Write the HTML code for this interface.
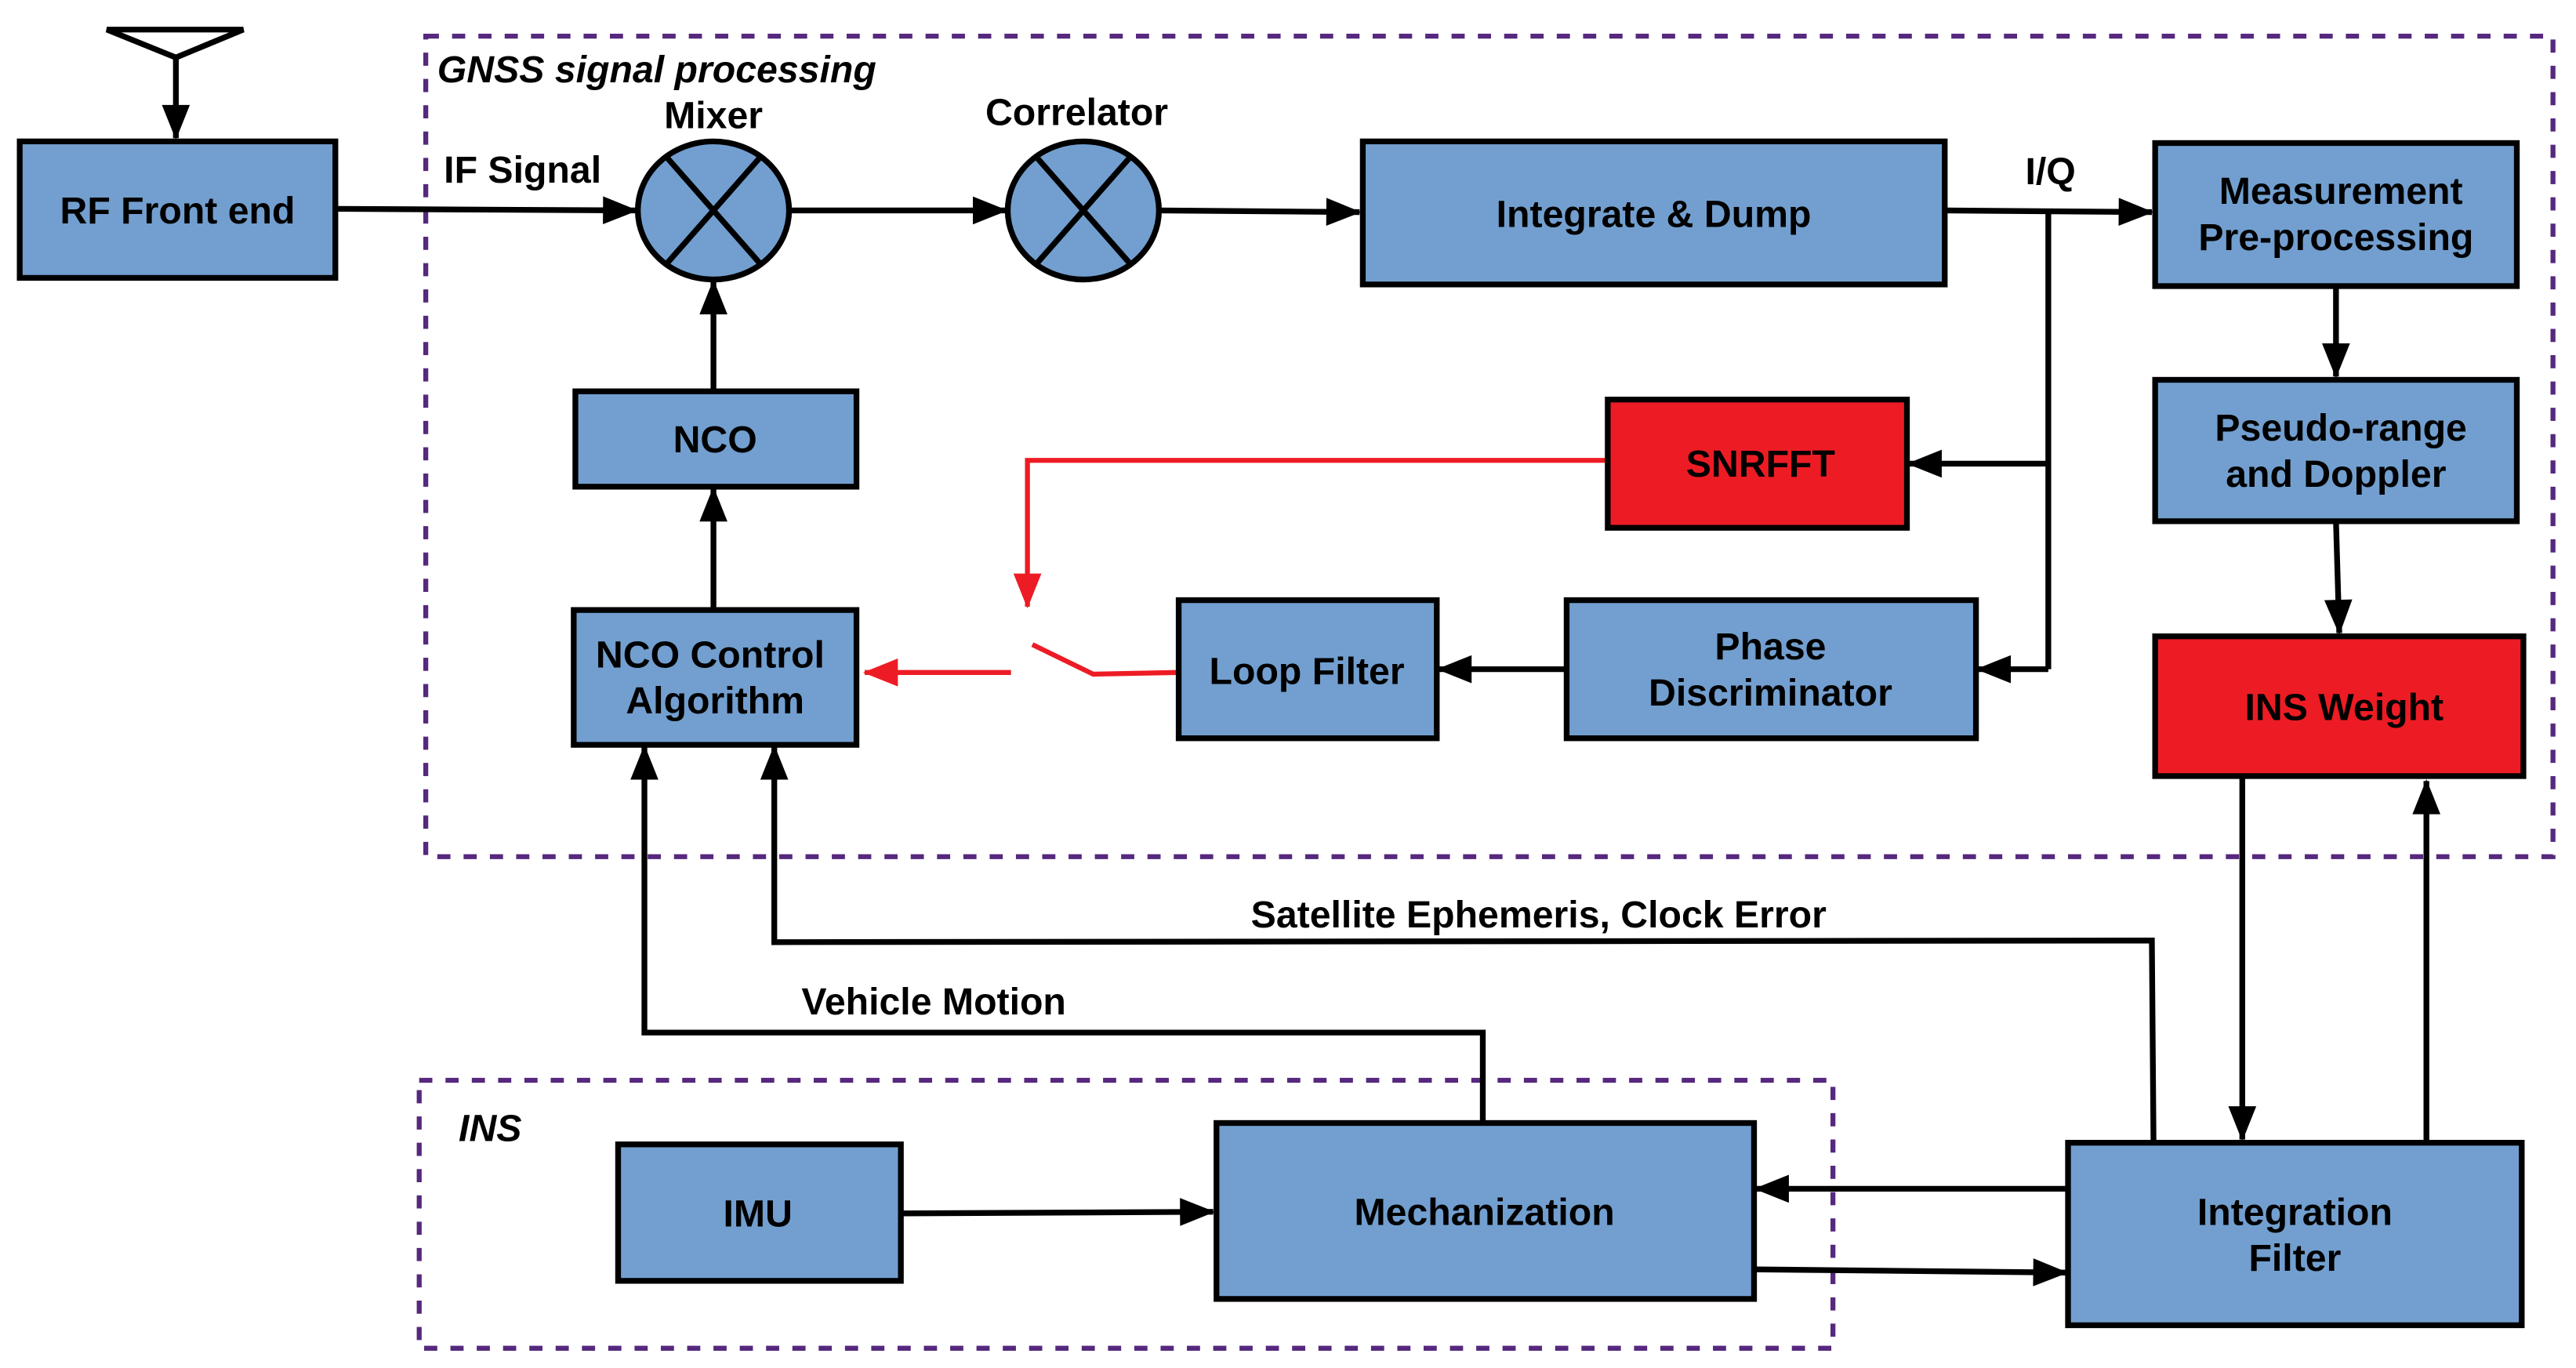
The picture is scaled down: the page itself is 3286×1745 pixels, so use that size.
<!DOCTYPE html>
<html><head><meta charset="utf-8"><style>
html,body{margin:0;padding:0;background:#fff;}
svg{display:block;}
text{font-family:"Liberation Sans",sans-serif;font-weight:bold;font-size:23px;fill:#000;}
</style></head><body>
<svg width="3286" height="1745" viewBox="0 0 1567 832" preserveAspectRatio="none" xmlns="http://www.w3.org/2000/svg">
<defs>
<marker id="k" viewBox="0 0 20 16" refX="19" refY="8" markerWidth="22" markerHeight="17" orient="auto" markerUnits="userSpaceOnUse"><path d="M0,0 L20,8 L0,16 z" fill="#000"/></marker>
<marker id="r" viewBox="0 0 20 16" refX="19" refY="8" markerWidth="22" markerHeight="17" orient="auto" markerUnits="userSpaceOnUse"><path d="M0,0 L20,8 L0,16 z" fill="#ed1c24"/></marker>
</defs>
<g fill="none" stroke="#56287e" stroke-width="3" stroke-dasharray="8,8">
<rect x="259" y="22" width="1294" height="499"/>
<rect x="255" y="657" width="860" height="163"/>
</g>
<g stroke="#000" stroke-width="3.5" fill="none">
<path d="M65,18 L148,18 L107,35 Z"/>
<path d="M107,35 L107,84" marker-end="url(#k)"/>
<path d="M204,127 L387,128" marker-end="url(#k)"/>
<path d="M481,128 L612,128" marker-end="url(#k)"/>
<path d="M705,128 L827,129" marker-end="url(#k)"/>
<path d="M1183,128 L1309,129" marker-end="url(#k)"/>
<path d="M1246,128 L1246,407"/>
<path d="M1246,282 L1161,282" marker-end="url(#k)"/>
<path d="M1246,407 L1203,407" marker-end="url(#k)"/>
<path d="M1421,174 L1421,229" marker-end="url(#k)"/>
<path d="M1421,317 L1423,385" marker-end="url(#k)"/>
<path d="M953,407 L875,407" marker-end="url(#k)"/>
<path d="M434,371 L434,297" marker-end="url(#k)"/>
<path d="M434,238 L434,171" marker-end="url(#k)"/>
<path d="M902,683 L902,628 L392,628 L392,454" marker-end="url(#k)"/>
<path d="M1310,695 L1309,572 L471,573 L471,454" marker-end="url(#k)"/>
<path d="M548,738 L738,737" marker-end="url(#k)"/>
<path d="M1258,723 L1068,723" marker-end="url(#k)"/>
<path d="M1067,772 L1257,774" marker-end="url(#k)"/>
<path d="M1364,472 L1364,693" marker-end="url(#k)"/>
<path d="M1476,694 L1476,475" marker-end="url(#k)"/>
</g>
<g stroke="#ed1c24" stroke-width="3" fill="none">
<path d="M978,280 L625,280 L625,369" marker-end="url(#r)"/>
<path d="M628,392 L665,410 L716,409"/>
<path d="M615,409 L526,409" marker-end="url(#r)"/>
</g>
<g stroke="#000" stroke-width="3.5" fill="#729fcf">
<rect x="12" y="86" width="192" height="83"/>
<ellipse cx="434" cy="128" rx="46" ry="42"/>
<ellipse cx="659" cy="128" rx="46" ry="42"/>
<rect x="829" y="86" width="354" height="87"/>
<rect x="1311" y="87" width="220" height="87"/>
<rect x="1311" y="231" width="220" height="86"/>
<rect x="953" y="365" width="249" height="84"/>
<rect x="717" y="365" width="157" height="84"/>
<rect x="349" y="371" width="172" height="82"/>
<rect x="350" y="238" width="171" height="58"/>
<rect x="376" y="696" width="172" height="83"/>
<rect x="740" y="683" width="327" height="107"/>
<rect x="1258" y="695" width="276" height="111"/>
<rect x="1311" y="387" width="224" height="85" fill="#ed1c24"/>
<rect x="978" y="243" width="182" height="78" fill="#ed1c24"/>
<path d="M405,95 L463,161 M463,95 L405,161 M630,95 L688,161 M688,95 L630,161" fill="none"/>
</g>
<g text-anchor="middle">
<text x="108" y="136">RF Front end</text>
<text x="434" y="78">Mixer</text>
<text x="655" y="76">Correlator</text>
<text x="1006" y="138">Integrate &amp; Dump</text>
<text x="1424" y="124">Measurement</text>
<text x="1421" y="152">Pre-processing</text>
<text x="1424" y="268">Pseudo-range</text>
<text x="1421" y="296">and Doppler</text>
<text x="1426" y="438">INS Weight</text>
<text x="1071" y="290">SNRFFT</text>
<text x="1077" y="401">Phase</text>
<text x="1077" y="429">Discriminator</text>
<text x="795" y="416">Loop Filter</text>
<text x="432" y="406">NCO Control</text>
<text x="435" y="434">Algorithm</text>
<text x="435" y="275">NCO</text>
<text x="461" y="746">IMU</text>
<text x="903" y="745">Mechanization</text>
<text x="1396" y="745">Integration</text>
<text x="1396" y="773">Filter</text>
<text x="936" y="564">Satellite Ephemeris, Clock Error</text>
<text x="568" y="617">Vehicle Motion</text>
</g>
<text x="270" y="111">IF Signal</text>
<text x="1232" y="112">I/Q</text>
<text x="266" y="50" font-style="italic">GNSS signal processing</text>
<text x="279" y="694" font-style="italic">INS</text>
</svg>
</body></html>
